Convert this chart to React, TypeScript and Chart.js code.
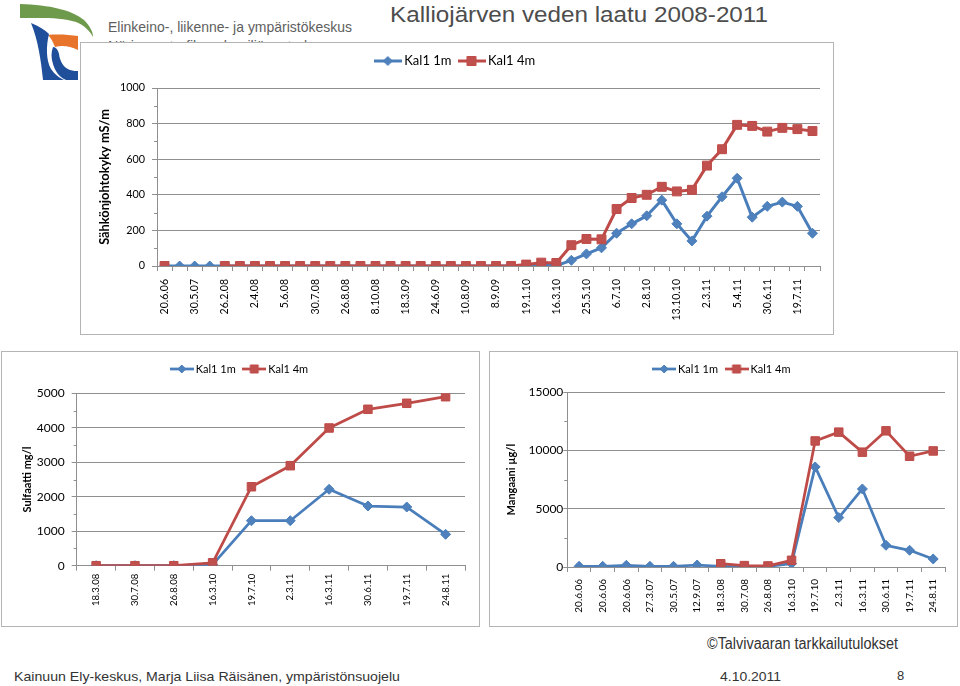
import React, { useEffect, useRef } from 'react';
import { Chart, registerables } from 'chart.js';

Chart.register(...registerables);

// ---------- DATA ----------
const seriesNames = ['Kal1 1m', 'Kal1 4m'];

// Top chart: Sähkönjohtokyky (44 sampling dates, every other label shown)
const condDates = [
  '20.6.06', '27.3.07', '30.5.07', '12.9.07', '26.2.08', '18.3.08', '2.4.08', '', '5.6.08', '',
  '30.7.08', '', '26.8.08', '', '8.10.08', '', '18.3.09', '', '24.6.09', '',
  '10.8.09', '', '8.9.09', '', '19.1.10', '', '16.3.10', '', '25.5.10', '',
  '6.7.10', '19.7.10', '2.8.10', '', '13.10.10', '', '2.3.11', '16.3.11', '5.4.11', '',
  '30.6.11', '', '19.7.11', '24.8.11',
];
const condKal1m = [
  0, 0, 0, 0, 0, 0, 0, 0, 0, 0,
  0, 0, 0, 0, 0, 0, 0, 0, 0, 0,
  0, 0, 0, 0, 3, 5, 2, 32, 68, 102,
  184, 237, 282, 370, 237, 141, 280, 389, 493, 274,
  335, 359, 335, 184,
];
const condKal4m = [
  0, null, null, null, 0, 0, 0, 0, 0, 0,
  0, 0, 0, 0, 0, 0, 0, 0, 0, 0,
  0, 0, 0, 0, 8, 19, 17, 117, 152, 150,
  320, 382, 400, 445, 419, 428, 564, 656, 793, 787,
  755, 776, 769, 758,
];

// Bottom-left: Sulfaatti mg/l
const sulfDates = ['18.3.08', '30.7.08', '26.8.08', '16.3.10', '19.7.10', '2.3.11', '16.3.11', '30.6.11', '19.7.11', '24.8.11'];
const sulfKal1m = [0, 0, 0, 30, 1305, 1305, 2216, 1731, 1702, 910];
const sulfKal4m = [0, 0, 0, 85, 2290, 2900, 3994, 4536, 4710, 4901];

// Bottom-right: Mangaani µg/l
const mnDates = ['20.6.06', '20.6.06', '20.6.06', '27.3.07', '30.5.07', '12.9.07', '18.3.08', '30.7.08', '26.8.08', '16.3.10', '19.7.10', '2.3.11', '16.3.11', '30.6.11', '19.7.11', '24.8.11'];
const mnKal1m = [60, 60, 146, 60, 60, 170, 50, 50, 50, 290, 8591, 4244, 6701, 1864, 1435, 690];
const mnKal4m = [null, null, null, null, null, null, 280, 120, 90, 575, 10824, 11580, 9860, 11690, 9510, 9966];

// ---------- STYLE ----------
const BLUE_LINE = '#4A7EBB';
const BLUE_FILL = '#4F81BD';
const RED_LINE = '#BE4B48';
const RED_FILL = '#C0504D';
const GRID = '#8f8f8f';
const FONT = 'Lato';

const minorTicks = {
  id: 'minorTicks',
  afterDatasetsDraw(chart: any, _args: any, opts: any) {
    const s = chart.scales.y;
    if (!opts || !opts.step) return;
    const ctx = chart.ctx;
    ctx.save();
    ctx.strokeStyle = GRID;
    ctx.lineWidth = 1;
    ctx.beginPath();
    for (let v = s.min + opts.step; v < s.max; v += opts.step) {
      if (Math.abs(v % opts.major) < 1e-6) continue;
      const y = Math.round(s.getPixelForValue(v)) + 0.5;
      ctx.moveTo(s.right - opts.len, y);
      ctx.lineTo(s.right, y);
    }
    ctx.stroke();
    ctx.restore();
  },
};

function legendImage(line: string, fill: string, style: string, w: number, lineW: number, r: number) {
  const h = 14;
  const c = document.createElement('canvas');
  c.width = w;
  c.height = h;
  const g = c.getContext('2d')!;
  g.strokeStyle = line;
  g.lineWidth = lineW;
  g.beginPath();
  g.moveTo(0, h / 2);
  g.lineTo(w, h / 2);
  g.stroke();
  g.fillStyle = fill;
  g.strokeStyle = line;
  g.lineWidth = 1;
  g.beginPath();
  if (style === 'rectRot') {
    g.moveTo(w / 2 - r, h / 2);
    g.lineTo(w / 2, h / 2 - r);
    g.lineTo(w / 2 + r, h / 2);
    g.lineTo(w / 2, h / 2 + r);
  } else {
    g.rect(w / 2 - r, h / 2 - r, 2 * r, 2 * r);
  }
  g.closePath();
  g.fill();
  g.stroke();
  return c;
}

type Spec = {
  labels: string[];
  a: (number | null)[];
  b: (number | null)[];
  w: number;
  h: number;
  yMax: number;
  yStep: number;
  minor: number;
  yTitle: string;
  titleSize: number;
  yTickSize: number;
  xTickSize: number;
  legendSize: number;
  every: number;
  padTop: number;
  padLeft: number;
  padRight: number;
  yWidth: number;
  xHeight: number;
  spacer: number;
  yTickPad: number;
  yTickLen: number;
  xTickPad: number;
  lineW: number;
  dR: number;
  sR: number;
  legLine: number;
  legPSW: number;
  legD: number;
  legS: number;
};

function LineChart({ spec, left, top }: { spec: Spec; left: number; top: number }) {
  const ref = useRef<HTMLCanvasElement>(null);
  useEffect(() => {
    if (!ref.current) return;
    const imgs = [
      legendImage(BLUE_LINE, BLUE_FILL, 'rectRot', spec.legLine, spec.lineW, spec.legD),
      legendImage(RED_LINE, RED_FILL, 'rect', spec.legLine, spec.lineW, spec.legS),
    ];
    const chart = new Chart(ref.current, {
      type: 'line',
      data: {
        labels: spec.labels,
        datasets: [
          {
            label: seriesNames[0],
            data: spec.a,
            borderColor: BLUE_LINE,
            backgroundColor: BLUE_FILL,
            borderWidth: spec.lineW,
            borderJoinStyle: 'round',
            pointStyle: 'rectRot',
            pointRadius: spec.dR,
            pointBackgroundColor: BLUE_FILL,
            pointBorderColor: BLUE_LINE,
            pointBorderWidth: 1,
            tension: 0,
            spanGaps: false,
            order: 1,
          },
          {
            label: seriesNames[1],
            data: spec.b,
            borderColor: RED_LINE,
            backgroundColor: RED_FILL,
            borderWidth: spec.lineW,
            borderJoinStyle: 'round',
            pointStyle: 'rect',
            pointRadius: spec.sR,
            pointBackgroundColor: RED_FILL,
            pointBorderColor: RED_LINE,
            pointBorderWidth: 1,
            tension: 0,
            spanGaps: false,
            order: 0,
          },
        ],
      },
      options: {
        responsive: false,
        maintainAspectRatio: false,
        animation: false,
        events: [],
        layout: { padding: { top: spec.padTop, left: spec.padLeft, right: spec.padRight, bottom: 0 } },
        plugins: {
          legend: {
            display: true,
            position: 'top',
            labels: {
              font: { family: FONT, size: spec.legendSize },
              color: '#000',
              usePointStyle: true,
              pointStyleWidth: spec.legPSW,
              padding: 10,
              generateLabels: (c: any) =>
                c.data.datasets.map((ds: any, i: number) => ({
                  text: ds.label,
                  pointStyle: imgs[i],
                  datasetIndex: i,
                  hidden: false,
                  lineWidth: 0,
                  strokeStyle: 'rgba(0,0,0,0)',
                  fillStyle: 'rgba(0,0,0,0)',
                  fontColor: '#000',
                })),
            },
          },
          subtitle: {
            display: true,
            text: '',
            position: 'top',
            weight: 500,
            font: { size: spec.spacer, lineHeight: 1 },
            padding: 0,
          },
          title: { display: false },
          tooltip: { enabled: false },
          minorTicks: { step: spec.minor, major: spec.yStep, len: 3 },
        } as any,
        scales: {
          x: {
            type: 'category',
            offset: true,
            grid: { offset: true, drawOnChartArea: false, drawTicks: true, tickLength: 5, color: GRID },
            border: { display: true, color: GRID, width: 1 },
            ticks: {
              autoSkip: false,
              minRotation: 90,
              maxRotation: 90,
              padding: spec.xTickPad,
              color: '#000',
              font: { family: FONT, size: spec.xTickSize },
              callback: function (this: any, v: any, i: number) {
                return i % spec.every === 0 ? this.getLabelForValue(v) : '';
              },
            },
            afterFit: (s: any) => {
              s.height = spec.xHeight;
            },
          },
          y: {
            min: 0,
            max: spec.yMax,
            grid: { color: GRID, tickLength: spec.yTickLen, drawTicks: true },
            border: { display: true, color: GRID, width: 1 },
            ticks: {
              stepSize: spec.yStep,
              padding: spec.yTickPad,
              color: '#000',
              font: { family: FONT, size: spec.yTickSize },
              callback: (v: any) => String(v),
            },
            title: {
              display: true,
              text: spec.yTitle,
              color: '#000',
              font: { family: FONT, size: spec.titleSize, weight: 'bold' },
              padding: { top: 4, bottom: 4 },
            },
            afterFit: (s: any) => {
              s.width = spec.yWidth;
            },
          },
        },
      } as any,
      plugins: [minorTicks as any],
    });
    return () => chart.destroy();
  }, []);
  return (
    <canvas
      ref={ref}
      width={spec.w}
      height={spec.h}
      style={{ position: 'absolute', left, top, width: spec.w, height: spec.h }}
    />
  );
}

const topSpec: Spec = {
  labels: condDates, a: condKal1m, b: condKal4m, w: 754, h: 293,
  yMax: 1000, yStep: 200, minor: 100, yTitle: 'Sähkönjohtokyky mS/m',
  titleSize: 12.8, yTickSize: 10.8, xTickSize: 10.5, legendSize: 13, every: 2,
  padTop: 2.5, padLeft: 13, padRight: 14, yWidth: 64, xHeight: 69, spacer: 10.5,
  yTickPad: 7, yTickLen: 5, xTickPad: 8, lineW: 3, dR: 5, sR: 6.3,
  legLine: 28, legPSW: 20, legD: 4.5, legS: 4.5,
};

const sulfSpec: Spec = {
  labels: sulfDates, a: sulfKal1m, b: sulfKal4m, w: 479, h: 276,
  yMax: 5000, yStep: 1000, minor: 500, yTitle: 'Sulfaatti mg/l',
  titleSize: 11, yTickSize: 12, xTickSize: 9.6, legendSize: 11, every: 1,
  padTop: 2.5, padLeft: 15.4, padRight: 15, yWidth: 60.3, xHeight: 61.3, spacer: 8.8,
  yTickPad: 7, yTickLen: 5, xTickPad: 3, lineW: 2.75, dR: 5, sR: 6,
  legLine: 24, legPSW: 17, legD: 4, legS: 4,
};

const mnSpec: Spec = {
  labels: mnDates, a: mnKal1m, b: mnKal4m, w: 469, h: 276,
  yMax: 15000, yStep: 5000, minor: 2500, yTitle: 'Mangaani µg/l',
  titleSize: 11, yTickSize: 12, xTickSize: 10, legendSize: 11, every: 1,
  padTop: 2.5, padLeft: 12.1, padRight: 13, yWidth: 66.2, xHeight: 60, spacer: 7.8,
  yTickPad: 0, yTickLen: 4, xTickPad: 7, lineW: 2.75, dR: 5, sR: 6,
  legLine: 24, legPSW: 17, legD: 4, legS: 4,
};

const boxStyle = (left: number, top: number, width: number, height: number): React.CSSProperties => ({
  position: 'absolute',
  left,
  top,
  width,
  height,
  boxSizing: 'border-box',
  border: '1px solid #b4b4b4',
  background: '#fff',
});

export default function App() {
  return (
    <div style={{ position: 'absolute', left: 0, top: 0, width: 960, height: 686, background: '#fff', overflow: 'hidden' }}>
      <svg width={960} height={686} style={{ position: 'absolute', left: 0, top: 0 }}>
        <g fontFamily="Liberation Sans, Arial, sans-serif">
          <text x={390} y={22} fontSize={22} fill="#4d4d4d" textLength={378} lengthAdjust="spacingAndGlyphs">
            Kalliojärven veden laatu 2008-2011
          </text>
          <text x={108} y={32} fontSize={15} fill="#5e5e5e" textLength={244} lengthAdjust="spacingAndGlyphs">
            Elinkeino-, liikenne- ja ympäristökeskus
          </text>
          <text x={108} y={51} fontSize={15} fill="#5e5e5e" textLength={215} lengthAdjust="spacingAndGlyphs">
            Närings-, trafik- och miljöcentralen
          </text>
          <text x={707} y={649} fontSize={16} fill="#333" textLength={191} lengthAdjust="spacingAndGlyphs">
            ©Talvivaaran tarkkailutulokset
          </text>
          <text x={14} y={681} fontSize={13} fill="#333" textLength={386} lengthAdjust="spacingAndGlyphs">
            Kainuun Ely-keskus, Marja Liisa Räisänen, ympäristönsuojelu
          </text>
          <text x={720} y={681} fontSize={13} fill="#333" textLength={61} lengthAdjust="spacingAndGlyphs">
            4.10.2011
          </text>
          <text x={897} y={680} fontSize={13} fill="#333">
            8
          </text>
        </g>
      </svg>
      <div style={boxStyle(80, 42, 754, 293)} />
      <div style={boxStyle(1, 351, 479, 276)} />
      <div style={boxStyle(489, 351, 469, 276)} />
      <svg width={100} height={85} style={{ position: 'absolute', left: 0, top: 0 }}>
        <path d="M20,4 C50,5 72,10 84,20 C90,26 93,32 93,37 C90,31 84,25 76,22 C62,17 40,18 20,18 Z" fill="#6E9A4B" />
        <path d="M48,35 C58,34 70,35 78,36 L78,50 C70,46 62,45 55,47 C53,42 51,38 48,35 Z" fill="#E8732A" />
        <path d="M31,23 C39,26 45,30 49,34 C46,46 46,60 51,69 C55,75 60,78 64,80 L43,80 C41,60 38,40 31,23 Z" fill="#1F4E9A" />
        <path d="M53,47 C56,47 58,50 59,54 C60,62 64,68 70,70 C73,71 76,71 78,71 L78,80 L66,80 C59,77 55,71 53,64 C51,58 51,52 53,47 Z" fill="#1F4E9A" />
      </svg>
      <LineChart spec={topSpec} left={80} top={42} />
      <LineChart spec={sulfSpec} left={1} top={351} />
      <LineChart spec={mnSpec} left={489} top={351} />
    </div>
  );
}
